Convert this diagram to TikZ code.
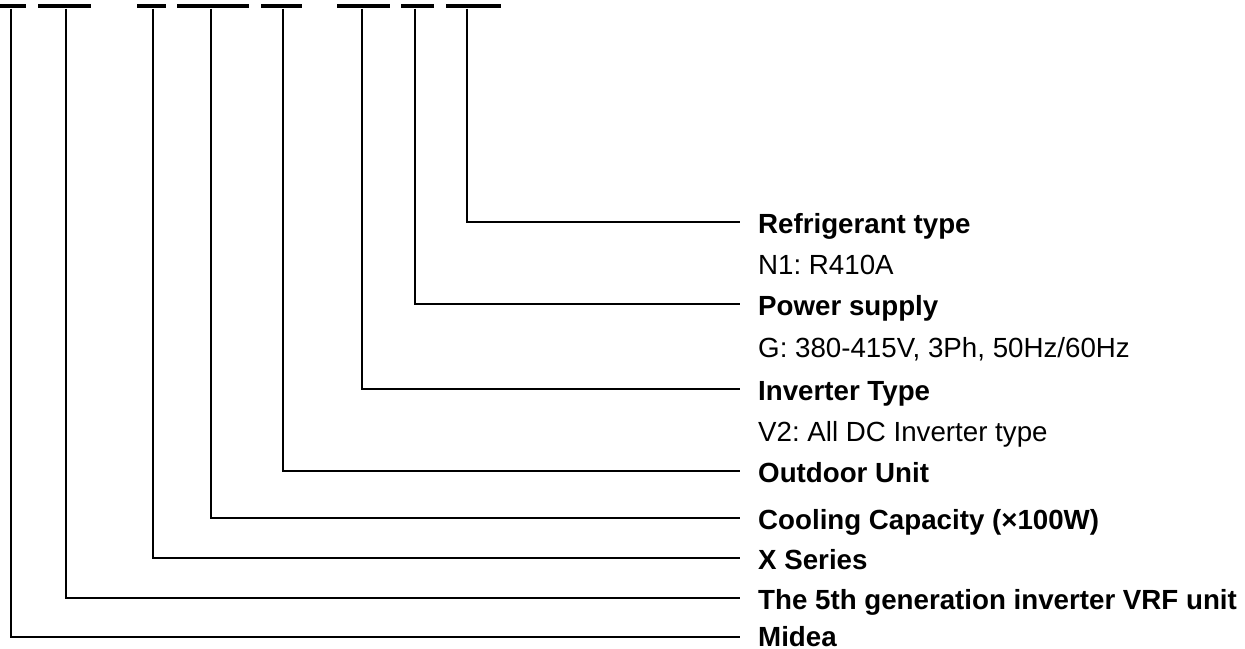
\documentclass[tikz,border=0pt]{standalone}
\usepackage{fontspec}
\setmainfont{Liberation Sans}
\usetikzlibrary{positioning}
\frenchspacing

\begin{document}
\begin{tikzpicture}[
    x=1pt, y=-1pt,
    every node/.style={font=\fontsize{27.7}{33}\selectfont, inner sep=0pt},
    % Stijl voor de codeblokjes bovenaan
    bar/.style={rectangle, fill=black, minimum height=4.3pt},
    % Stijl voor de omschrijvingen (rechts)
    title/.style={anchor=base west, font=\fontsize{27.7}{33}\selectfont\bfseries},
    sub/.style={anchor=base west},
    lead/.style={line width=1.3pt}
]
\useasboundingbox (0,0) rectangle (1245,648);

% --- Codeblokjes ---
\node[bar, minimum width=26pt] (b1) at (13,6.2) {};
\node[bar, minimum width=53pt] (b2) at (64.5,6.2) {};
\node[bar, minimum width=29pt] (b3) at (151.5,6.2) {};
\node[bar, minimum width=72pt] (b4) at (213,6.2) {};
\node[bar, minimum width=41pt] (b5) at (281.5,6.2) {};
\node[bar, minimum width=53pt] (b6) at (363.5,6.2) {};
\node[bar, minimum width=33pt] (b7) at (417.5,6.2) {};
\node[bar, minimum width=55pt] (b8) at (473.5,6.2) {};

% --- Omschrijvingen ---
\node[title] (refr) at (758,233) {Refrigerant type};
\node[sub] (refrv) at (758,274) {N1: R410A};
\node[title] (power) at (758,315) {Power supply};
\node[sub] (powerv) at (758,357) {G: 380-415V, 3Ph, 50Hz/60Hz};
\node[title] (inv) at (758,400) {Inverter Type};
\node[sub] (invv) at (758,441) {V2: All DC Inverter type};
\node[title] (outd) at (758,482) {Outdoor Unit};
\node[title] (cap) at (758,529) {Cooling Capacity (×100W)};
\node[title] (series) at (758,569) {X Series};
\node[title] (gen) at (758,609) {The 5th generation inverter VRF unit};
\node[title] (brand) at (758,646) {Midea};

% --- Verbindingslijnen ---
\draw[lead] ([xshift=-6.5pt]b8.south) |- ([xshift=-18pt,yshift=11pt]refr.base west);
\draw[lead] ([xshift=-2.5pt]b7.south) |- ([xshift=-18pt,yshift=11pt]power.base west);
\draw[lead] ([xshift=-1.5pt]b6.south) |- ([xshift=-18pt,yshift=11pt]inv.base west);
\draw[lead] ([xshift=1.5pt]b5.south) |- ([xshift=-18pt,yshift=11pt]outd.base west);
\draw[lead] ([xshift=-2pt]b4.south) |- ([xshift=-18pt,yshift=11pt]cap.base west);
\draw[lead] ([xshift=1.5pt]b3.south) |- ([xshift=-18pt,yshift=11pt]series.base west);
\draw[lead] ([xshift=1.5pt]b2.south) |- ([xshift=-18pt,yshift=11pt]gen.base west);
\draw[lead] ([xshift=-2pt]b1.south) |- ([xshift=-18pt,yshift=9pt]brand.base west);

\end{tikzpicture}
\end{document}
